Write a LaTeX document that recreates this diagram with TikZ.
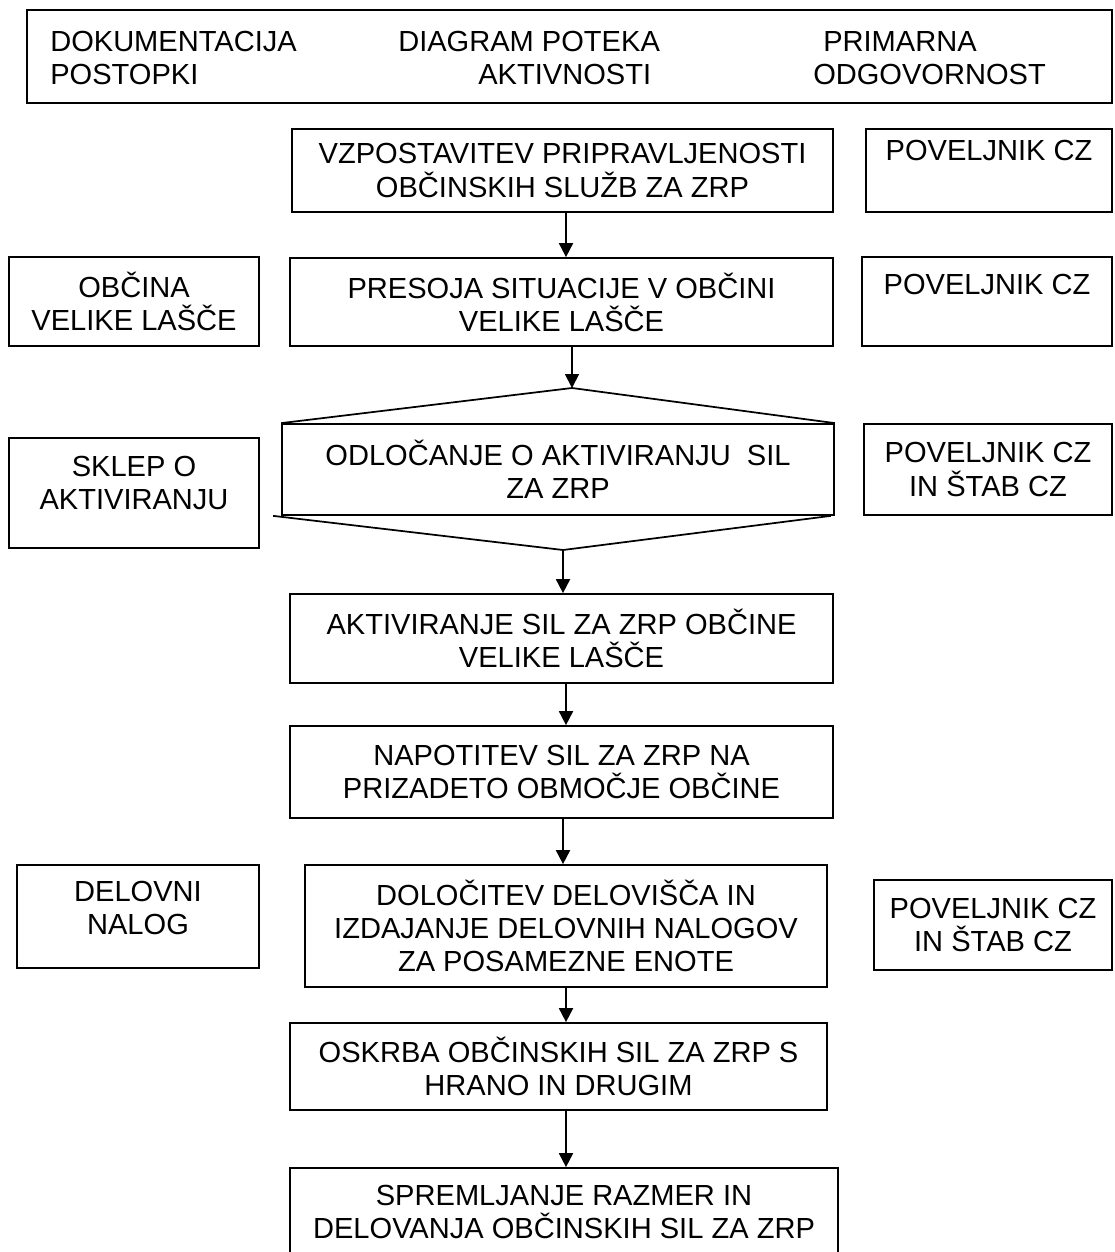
\documentclass[tikz,border=0pt]{standalone}
\usepackage{fontspec}
\setmainfont{Liberation Sans}
\usepackage{tikz}
\usetikzlibrary{positioning,arrows.meta}
\tikzset{
    block/.style = {
        draw,
        shape=rectangle,
        align=center,
        inner sep=0pt,
        line width=1.3pt,
        font=\fontsize{21.8pt}{24.8pt}\selectfont
    },
    plain/.style = {
        shape=rectangle,
        align=left,
        inner sep=0pt,
        font=\fontsize{21.8pt}{24.8pt}\selectfont
    },
    link/.style = {
        draw,
        ->,
        line width=1.4pt
    },
    edge/.style = {
        draw,
        line width=1.3pt
    },
    >={Triangle[length=10.5pt,width=10.5pt]},
}

\begin{document}
\begin{tikzpicture}[x=0.75pt,y=-0.75pt]
                \useasboundingbox (0,0) rectangle (1114,1252);

                % header
                \node[block, minimum width=813.75pt, minimum height=69.75pt] (hdr) at (569.5,56.5) {};
                \node[plain, anchor=west] (doc) at (50,58) {DOKUMENTACIJA\\POSTOPKI};
                \node[plain, anchor=west] (diag) at (398,58) {DIAGRAM POTEKA\\\hspace*{60pt}AKTIVNOSTI};
                \node[plain, anchor=west] (prim) at (813,58) {\hspace*{7.5pt}PRIMARNA\\ODGOVORNOST};

                % main column
                \node[block, minimum width=405.75pt, minimum height=62.25pt] (vzp) at (562.5,170.5) {VZPOSTAVITEV PRIPRAVLJENOSTI\\OBČINSKIH SLUŽB ZA ZRP};
                \node[block, minimum width=407.25pt, minimum height=66pt] (presoja) at (561.5,302) {PRESOJA SITUACIJE V OBČINI\\VELIKE LAŠČE};
                \node[block, minimum width=414pt, minimum height=68.25pt] (dec) at (558,469.5) {ODLOČANJE O AKTIVIRANJU\ \ SIL\\ZA ZRP};
                \node[block, minimum width=407.25pt, minimum height=66.75pt] (aktiv) at (561.5,638.5) {AKTIVIRANJE SIL ZA ZRP OBČINE\\VELIKE LAŠČE};
                \node[block, minimum width=407.25pt, minimum height=69pt] (napot) at (561.5,772) {NAPOTITEV SIL ZA ZRP NA\\PRIZADETO OBMOČJE OBČINE};
                \node[block, minimum width=391.5pt, minimum height=91.5pt] (doloc) at (566,926) {DOLOČITEV DELOVIŠČA IN\\IZDAJANJE DELOVNIH NALOGOV\\ZA POSAMEZNE ENOTE};
                \node[block, minimum width=402.75pt, minimum height=65.25pt] (oskrba) at (558.5,1066.5) {OSKRBA OBČINSKIH SIL ZA ZRP S\\HRANO IN DRUGIM};
                \node[block, minimum width=411pt, minimum height=66pt] (spreml) at (564,1212) {SPREMLJANJE RAZMER IN\\DELOVANJA OBČINSKIH SIL ZA ZRP};

                \coordinate (axis) at (566,0);
                \coordinate (dectop) at (572,388);
                \coordinate (decbot) at (563,550);
                \path[edge] (dec.north west) -- (dectop) -- (dec.north east);
                \path[edge] ([xshift=-6pt]dec.south west) -- (decbot) -- ([xshift=-3pt]dec.south east);

                % documents
                \node[block, minimum width=187.5pt, minimum height=66.75pt] (obcina) at (134,301.5) {OBČINA\\VELIKE LAŠČE};
                \node[block, minimum width=187.5pt, minimum height=82.5pt] (sklep) at (134,493) {SKLEP O\\AKTIVIRANJU\\[-9.8pt]\mbox{}};
                \node[block, minimum width=181.5pt, minimum height=77.25pt] (delovni) at (138,916.5) {DELOVNI\\NALOG\\[-11.3pt]\mbox{}};

                % responsibility
                \node[block, minimum width=184.5pt, minimum height=62.25pt] (pov1) at (989,170.5) {POVELJNIK CZ\\[6pt]\mbox{}};
                \node[block, minimum width=187.5pt, minimum height=66.75pt] (pov2) at (987,301.5) {POVELJNIK CZ\\[1.5pt]\mbox{}};
                \node[block, minimum width=186pt, minimum height=68.25pt] (pov3) at (988,469.5) {POVELJNIK CZ\\IN ŠTAB CZ};
                \node[block, minimum width=178.5pt, minimum height=67.5pt] (pov4) at (993,925) {POVELJNIK CZ\\IN ŠTAB CZ};

                \path[link] (vzp.south -| axis) -- (presoja.north -| axis);
                \path[link] (presoja.south -| dectop) -- (dectop);
                \path[link] (decbot) -- (decbot |- aktiv.north);
                \path[link] (aktiv.south -| axis) -- (napot.north -| axis);
                \path[link] (napot.south -| decbot) -- (doloc.north -| decbot);
                \path[link] (doloc.south -| axis) -- (oskrba.north -| axis);
                \path[link] (oskrba.south -| axis) -- (spreml.north -| axis);
            \end{tikzpicture}
\end{document}
